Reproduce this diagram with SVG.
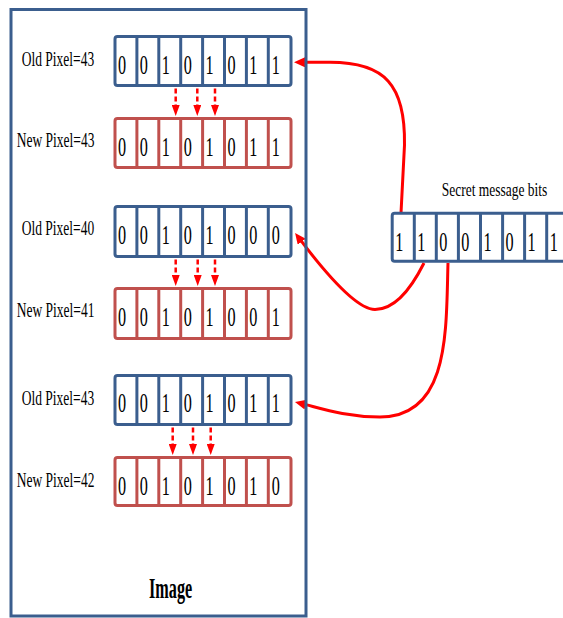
<svg xmlns="http://www.w3.org/2000/svg" width="563" height="618" viewBox="0 0 563 618">
<style>
  .frame{fill:none;stroke:#3B5E8E;stroke-width:3}
  .bo{fill:#fff;stroke:#3B5E8E;stroke-width:3}
  .ro{fill:#fff;stroke:#C0504D;stroke-width:3}
  .bs{stroke:#3B5E8E;stroke-width:3}
  .rs{stroke:#C0504D;stroke-width:3}
  text{font-family:"Liberation Serif","Times New Roman",serif;fill:#000}
  .d{font-size:27px;text-anchor:middle}
  .lb{font-size:21px}
  .sec{font-size:19px}
  .img{font-size:30px;font-weight:bold}
  .curve{fill:none;stroke:#FF0000;stroke-width:3;marker-end:url(#ah)}
  .dash{fill:none;stroke:#FF0000;stroke-width:2.5;stroke-dasharray:5,3;marker-end:url(#dh)}
</style>
<defs>
  <marker id="ah" markerUnits="userSpaceOnUse" markerWidth="11" markerHeight="10" viewBox="0 0 11 10" refX="5" refY="5" orient="auto">
    <path d="M0,0 L11,5 L0,10 z" fill="#FF0000"/>
  </marker>
  <marker id="dh" markerUnits="userSpaceOnUse" markerWidth="11" markerHeight="8" viewBox="0 0 11 8" refX="1" refY="4" orient="auto">
    <path d="M0,0 L11,4 L0,8 z" fill="#FF0000"/>
  </marker>
  <g id="seps">
    <line x1="136.9" y1="0" x2="136.9" y2="49"/>
    <line x1="158.8" y1="0" x2="158.8" y2="49"/>
    <line x1="180.7" y1="0" x2="180.7" y2="49"/>
    <line x1="202.6" y1="0" x2="202.6" y2="49"/>
    <line x1="224.5" y1="0" x2="224.5" y2="49"/>
    <line x1="246.4" y1="0" x2="246.4" y2="49"/>
    <line x1="268.3" y1="0" x2="268.3" y2="49"/>
  </g>
</defs>
<rect x="0" y="0" width="563" height="618" fill="#fff"/>

<g id="connectors">
  <path class="curve" d="M401,213 L404.5,145 C405.5,85 385,62.3 330,62.3 L300,62.3"/>
  <path class="curve" d="M424,263 C412,287 395,309.5 375,309.5 C355,309.5 320,266 298.7,237.7"/>
  <path class="curve" d="M448,263 C446,330 450,417 380,417 C345,417 320,408 300.8,403.4"/>
  <path class="dash" d="M175.7,88.5 L175.7,106"/>
  <path class="dash" d="M197.3,88.5 L197.3,106"/>
  <path class="dash" d="M215,88.5 L215,106"/>
  <path class="dash" d="M175.7,259.5 L175.7,276"/>
  <path class="dash" d="M197.7,259.5 L197.7,276"/>
  <path class="dash" d="M215,259.5 L215,276"/>
  <path class="dash" d="M172.7,427.5 L172.7,445"/>
  <path class="dash" d="M193,427.5 L193,445"/>
  <path class="dash" d="M210.7,427.5 L210.7,445"/>
</g>

<g id="image-frame">
  <rect class="frame" x="11" y="9.5" width="295" height="606.5"/>
  <text class="img" transform="translate(149,597.7) scale(0.54,1)">Image</text>
</g>

<g id="old-pixel-1">
  <text class="lb" transform="translate(21.7,65.7) scale(0.643,1)">Old Pixel=43</text>
  <rect class="bo" x="115" y="36.5" width="176" height="49" rx="2.5"/>
  <use href="#seps" class="bs" transform="translate(0,36.5)"/>
  <g transform="translate(0,73.5)">
    <text class="d" transform="translate(122,0) scale(0.6,1)">0</text>
    <text class="d" transform="translate(143.9,0) scale(0.6,1)">0</text>
    <text class="d" transform="translate(165.8,0) scale(0.6,1)">1</text>
    <text class="d" transform="translate(187.7,0) scale(0.6,1)">0</text>
    <text class="d" transform="translate(209.6,0) scale(0.6,1)">1</text>
    <text class="d" transform="translate(231.5,0) scale(0.6,1)">0</text>
    <text class="d" transform="translate(253.4,0) scale(0.6,1)">1</text>
    <text class="d" transform="translate(275.7,0) scale(0.6,1)">1</text>
  </g>
</g>

<g id="new-pixel-1">
  <text class="lb" transform="translate(16.7,147) scale(0.643,1)">New Pixel=43</text>
  <rect class="ro" x="115" y="118.5" width="176" height="49" rx="2.5"/>
  <use href="#seps" class="rs" transform="translate(0,118.5)"/>
  <g transform="translate(0,155.5)">
    <text class="d" transform="translate(122,0) scale(0.6,1)">0</text>
    <text class="d" transform="translate(143.9,0) scale(0.6,1)">0</text>
    <text class="d" transform="translate(165.8,0) scale(0.6,1)">1</text>
    <text class="d" transform="translate(187.7,0) scale(0.6,1)">0</text>
    <text class="d" transform="translate(209.6,0) scale(0.6,1)">1</text>
    <text class="d" transform="translate(231.5,0) scale(0.6,1)">0</text>
    <text class="d" transform="translate(253.4,0) scale(0.6,1)">1</text>
    <text class="d" transform="translate(275.7,0) scale(0.6,1)">1</text>
  </g>
</g>

<g id="old-pixel-2">
  <text class="lb" transform="translate(21.7,235) scale(0.643,1)">Old Pixel=40</text>
  <rect class="bo" x="115" y="206.5" width="176" height="50" rx="2.5"/>
  <use href="#seps" class="bs" transform="translate(0,206.5)"/>
  <g transform="translate(0,243.5)">
    <text class="d" transform="translate(122,0) scale(0.6,1)">0</text>
    <text class="d" transform="translate(143.9,0) scale(0.6,1)">0</text>
    <text class="d" transform="translate(165.8,0) scale(0.6,1)">1</text>
    <text class="d" transform="translate(187.7,0) scale(0.6,1)">0</text>
    <text class="d" transform="translate(209.6,0) scale(0.6,1)">1</text>
    <text class="d" transform="translate(231.5,0) scale(0.6,1)">0</text>
    <text class="d" transform="translate(253.4,0) scale(0.6,1)">0</text>
    <text class="d" transform="translate(275.7,0) scale(0.6,1)">0</text>
  </g>
</g>

<g id="new-pixel-2">
  <text class="lb" transform="translate(16.7,317) scale(0.643,1)">New Pixel=41</text>
  <rect class="ro" x="115" y="288.5" width="176" height="50" rx="2.5"/>
  <use href="#seps" class="rs" transform="translate(0,288.5)"/>
  <g transform="translate(0,326)">
    <text class="d" transform="translate(122,0) scale(0.6,1)">0</text>
    <text class="d" transform="translate(143.9,0) scale(0.6,1)">0</text>
    <text class="d" transform="translate(165.8,0) scale(0.6,1)">1</text>
    <text class="d" transform="translate(187.7,0) scale(0.6,1)">0</text>
    <text class="d" transform="translate(209.6,0) scale(0.6,1)">1</text>
    <text class="d" transform="translate(231.5,0) scale(0.6,1)">0</text>
    <text class="d" transform="translate(253.4,0) scale(0.6,1)">0</text>
    <text class="d" transform="translate(275.7,0) scale(0.6,1)">1</text>
  </g>
</g>

<g id="old-pixel-3">
  <text class="lb" transform="translate(21.7,405) scale(0.643,1)">Old Pixel=43</text>
  <rect class="bo" x="115" y="375.5" width="176" height="49" rx="2.5"/>
  <use href="#seps" class="bs" transform="translate(0,375.5)"/>
  <g transform="translate(0,412)">
    <text class="d" transform="translate(122,0) scale(0.6,1)">0</text>
    <text class="d" transform="translate(143.9,0) scale(0.6,1)">0</text>
    <text class="d" transform="translate(165.8,0) scale(0.6,1)">1</text>
    <text class="d" transform="translate(187.7,0) scale(0.6,1)">0</text>
    <text class="d" transform="translate(209.6,0) scale(0.6,1)">1</text>
    <text class="d" transform="translate(231.5,0) scale(0.6,1)">0</text>
    <text class="d" transform="translate(253.4,0) scale(0.6,1)">1</text>
    <text class="d" transform="translate(275.7,0) scale(0.6,1)">1</text>
  </g>
</g>

<g id="new-pixel-3">
  <text class="lb" transform="translate(16.7,486.7) scale(0.643,1)">New Pixel=42</text>
  <rect class="ro" x="115" y="457.5" width="176" height="48" rx="2.5"/>
  <use href="#seps" class="rs" transform="translate(0,457.5) scale(1,0.98)"/>
  <g transform="translate(0,494.5)">
    <text class="d" transform="translate(122,0) scale(0.6,1)">0</text>
    <text class="d" transform="translate(143.9,0) scale(0.6,1)">0</text>
    <text class="d" transform="translate(165.8,0) scale(0.6,1)">1</text>
    <text class="d" transform="translate(187.7,0) scale(0.6,1)">0</text>
    <text class="d" transform="translate(209.6,0) scale(0.6,1)">1</text>
    <text class="d" transform="translate(231.5,0) scale(0.6,1)">0</text>
    <text class="d" transform="translate(253.4,0) scale(0.6,1)">1</text>
    <text class="d" transform="translate(275.7,0) scale(0.6,1)">0</text>
  </g>
</g>

<g id="secret-bits">
  <text class="sec" transform="translate(441.7,195.7) scale(0.71,1)">Secret message bits</text>
  <rect class="bo" x="392.2" y="213.2" width="176.6" height="48" rx="2.5"/>
  <g class="bs">
    <line x1="414.3" y1="213.2" x2="414.3" y2="261.2"/>
    <line x1="436.3" y1="213.2" x2="436.3" y2="261.2"/>
    <line x1="458.4" y1="213.2" x2="458.4" y2="261.2"/>
    <line x1="480.5" y1="213.2" x2="480.5" y2="261.2"/>
    <line x1="502.6" y1="213.2" x2="502.6" y2="261.2"/>
    <line x1="524.6" y1="213.2" x2="524.6" y2="261.2"/>
    <line x1="546.7" y1="213.2" x2="546.7" y2="261.2"/>
  </g>
  <g transform="translate(0,250.5)">
    <text class="d" transform="translate(399.2,0) scale(0.6,1)">1</text>
    <text class="d" transform="translate(421.3,0) scale(0.6,1)">1</text>
    <text class="d" transform="translate(443.4,0) scale(0.6,1)">0</text>
    <text class="d" transform="translate(465.4,0) scale(0.6,1)">0</text>
    <text class="d" transform="translate(487.5,0) scale(0.6,1)">1</text>
    <text class="d" transform="translate(509.6,0) scale(0.6,1)">0</text>
    <text class="d" transform="translate(531.6,0) scale(0.6,1)">1</text>
    <text class="d" transform="translate(553.7,0) scale(0.6,1)">1</text>
  </g>
</g>
</svg>
